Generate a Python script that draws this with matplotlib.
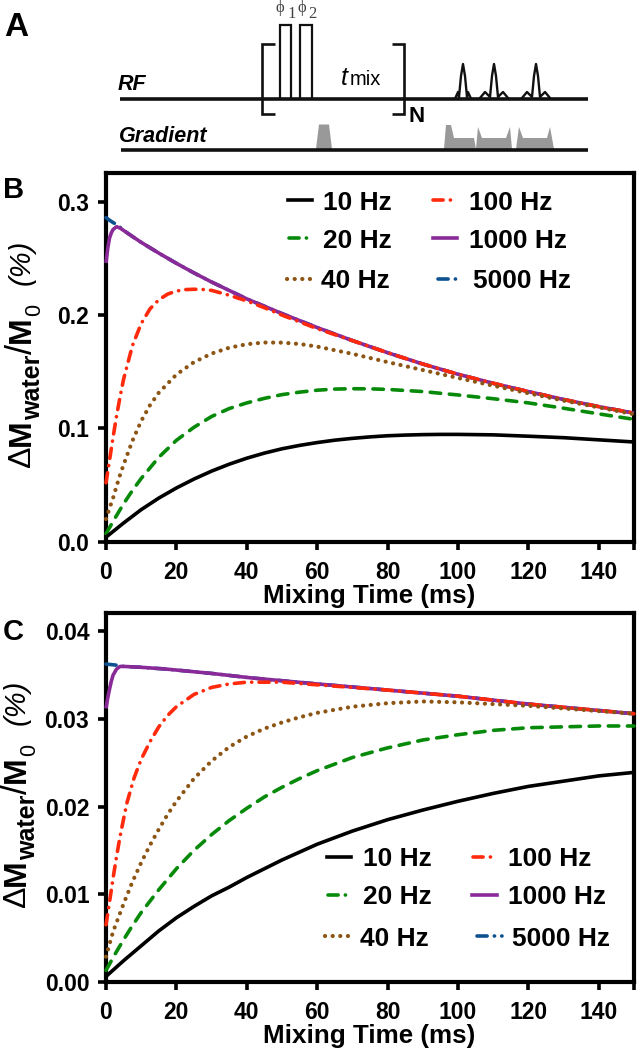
import matplotlib
matplotlib.use("Agg")
import matplotlib.pyplot as plt
from matplotlib.patches import Polygon

plt.rcParams['font.family'] = ['Liberation Sans', 'DejaVu Sans']
plt.rcParams['font.weight'] = 'bold'

W, H = 637, 1050

labels = ['10 Hz', '20 Hz', '40 Hz', '100 Hz', '1000 Hz', '5000 Hz']
colors = ['#000000', '#078a0a', '#8c5514', '#ff2a0c', '#8a2a98', '#0c5090']

# panel B
b_t_10 = [0, 5, 10, 15, 20, 25, 30, 35, 40, 45, 50, 55, 60, 65, 70, 75, 80, 85, 90, 95, 100, 110, 120, 130, 140, 150]
b_10 = [0.004, 0.0165, 0.0283, 0.0385, 0.0474, 0.0553, 0.0623, 0.0684, 0.0737, 0.0782, 0.082, 0.085, 0.0875, 0.0896, 0.0912, 0.0925, 0.0935, 0.0941, 0.0945, 0.0947, 0.0947, 0.0943, 0.0931, 0.0918, 0.0899, 0.088]
b_t_20 = [0, 2.5, 5, 7.5, 10, 15, 20, 25, 30, 35, 40, 45, 50, 55, 60, 65, 70, 75, 80, 90, 100, 110, 120, 130, 140, 150]
b_20 = [0.007, 0.0205, 0.0335, 0.0452, 0.0558, 0.0745, 0.0895, 0.101, 0.1105, 0.1175, 0.1225, 0.1265, 0.1298, 0.132, 0.1337, 0.1347, 0.135, 0.1349, 0.1344, 0.1325, 0.1295, 0.1262, 0.1225, 0.1178, 0.1128, 0.108]
b_t_40 = [0, 1, 2, 3, 4, 5, 7.5, 10, 12.5, 15, 20, 25, 30, 35, 40, 45, 50, 55, 60, 70, 80, 90, 100, 110, 120, 130, 140, 150]
b_40 = [0.02, 0.0295, 0.0385, 0.049, 0.059, 0.068, 0.089, 0.1065, 0.1205, 0.1315, 0.1475, 0.1585, 0.166, 0.1712, 0.1743, 0.1758, 0.1757, 0.1745, 0.1722, 0.1658, 0.1585, 0.1515, 0.1445, 0.1377, 0.131, 0.1245, 0.1185, 0.1125]
b_t_100 = [0, 1, 2, 3, 4, 5, 7.5, 10, 12.5, 15, 17.5, 20, 22.5, 25, 27.5, 30, 35, 40, 45, 50, 60, 70, 80, 90, 100, 110, 120, 130, 140, 150]
b_100 = [0.052, 0.072, 0.092, 0.111, 0.128, 0.1435, 0.173, 0.1925, 0.2055, 0.2135, 0.2185, 0.2212, 0.2225, 0.2228, 0.2226, 0.2218, 0.2175, 0.2125, 0.2065, 0.2, 0.188, 0.1775, 0.1668, 0.1568, 0.1478, 0.1398, 0.1325, 0.1255, 0.1192, 0.1135]
b_t_1000 = [0, 0.5, 1, 1.5, 2, 3, 4, 5, 7.5, 10, 15, 20, 25, 30, 40, 50, 60, 70, 80, 90, 100, 110, 120, 130, 140, 150]
b_1000 = [0.246, 0.259, 0.268, 0.2725, 0.2755, 0.278, 0.2768, 0.2747, 0.2694, 0.2642, 0.2547, 0.2457, 0.2372, 0.2292, 0.2143, 0.2013, 0.189, 0.1775, 0.1668, 0.1568, 0.1478, 0.1398, 0.1325, 0.1255, 0.1192, 0.1135]
b_t_5000 = [0, 1, 2, 3, 4, 5, 7.5, 10, 15, 20, 25, 30, 40, 50, 60, 70, 80, 90, 100, 110, 120, 130, 140, 150]
b_5000 = [0.286, 0.2837, 0.2817, 0.2798, 0.2775, 0.2747, 0.2694, 0.2642, 0.2547, 0.2457, 0.2372, 0.2292, 0.2143, 0.2013, 0.189, 0.1775, 0.1668, 0.1568, 0.1478, 0.1398, 0.1325, 0.1255, 0.1192, 0.1135]

# panel C
c_t_10 = [0, 5, 10, 15, 20, 25, 30, 35, 40, 45, 50, 55, 60, 70, 80, 90, 100, 110, 120, 130, 140, 150]
c_10 = [0.0006, 0.0024, 0.0041, 0.0058, 0.0073, 0.0086, 0.0098, 0.0108, 0.0119, 0.0129, 0.0139, 0.0148, 0.0157, 0.0172, 0.0185, 0.0196, 0.0206, 0.0215, 0.0223, 0.0229, 0.0235, 0.0239]
c_t_20 = [0, 2.5, 5, 7.5, 10, 12.5, 15, 20, 25, 30, 35, 40, 45, 50, 55, 60, 70, 80, 90, 100, 110, 120, 130, 140, 150]
c_20 = [0.0013, 0.0031, 0.0048, 0.0064, 0.0079, 0.0092, 0.0105, 0.0129, 0.015, 0.0168, 0.0184, 0.0198, 0.0211, 0.0222, 0.0232, 0.0241, 0.0256, 0.0267, 0.0276, 0.0282, 0.0287, 0.029, 0.0291, 0.0292, 0.0292]
c_t_40 = [0, 1, 2, 3.5, 5, 7.5, 10, 12.5, 15, 17.5, 20, 25, 30, 35, 40, 45, 50, 55, 60, 70, 80, 90, 100, 110, 120, 130, 140, 150]
c_40 = [0.00285, 0.0043, 0.0057, 0.0073, 0.0089, 0.0114, 0.0136, 0.0156, 0.0174, 0.0191, 0.0206, 0.0232, 0.0252, 0.0268, 0.028, 0.0289, 0.0296, 0.0302, 0.0307, 0.0314, 0.0318, 0.032, 0.0319, 0.0317, 0.0315, 0.0312, 0.0309, 0.0306]
c_t_100 = [0, 1, 2, 3, 4, 5, 6, 8, 10, 12.5, 15, 17.5, 20, 25, 30, 35, 40, 50, 60, 80, 100, 120, 150]
c_100 = [0.0065, 0.0091, 0.0118, 0.0143, 0.0166, 0.0186, 0.0205, 0.0233, 0.0254, 0.0274, 0.0291, 0.0304, 0.0314, 0.0328, 0.0336, 0.034, 0.0342, 0.0342, 0.0339, 0.0333, 0.0326, 0.0317, 0.0306]
c_t_1000 = [0, 0.5, 1, 1.5, 2, 3, 4, 5, 10, 17, 30, 41, 60, 80, 100, 120, 150]
c_1000 = [0.0312, 0.0324, 0.0334, 0.0343, 0.035, 0.0357, 0.036, 0.036, 0.0359, 0.0357, 0.0352, 0.0347, 0.034, 0.0333, 0.0326, 0.0317, 0.0306]
c_t_5000 = [0, 4, 5, 10, 17, 30, 41, 60, 80, 100, 120, 150]
c_5000 = [0.03627, 0.0361, 0.036, 0.0359, 0.0357, 0.0352, 0.0347, 0.034, 0.0333, 0.0326, 0.0317, 0.0306]

x_ticks = [0, 20, 40, 60, 80, 100, 120, 140, 150]
x_tick_labels = ['0', '20', '40', '60', '80', '100', '120', '140', '']
b_ticks = [0.0, 0.1, 0.2, 0.3]
c_ticks = [0.00, 0.01, 0.02, 0.03, 0.04]

LW = 2.6
styles = {
    '10 Hz': '-',
    '20 Hz': (0, (2.9, 2.4)),
    '40 Hz': (0, (0.03, 1.8)),
    '100 Hz': (0, (2.8, 2.0, 0.05, 2.0)),
    '1000 Hz': '-',
    '5000 Hz': (0, (2.8, 2.0, 0.05, 2.0)),
}
handle_styles = dict(styles)
handle_styles['20 Hz'] = (0, (2.8, 2.0, 0.05, 2.0))
widths = {'40 Hz': 3.0}


def box(left, right, top, bottom):
    return [left / W, 1 - bottom / H, (right - left) / W, (bottom - top) / H]


def draw_panel(ax, series, ymax, ticks, fmt):
    # same stacking as the original: blue under purple under red
    for i in [5, 4, 3, 1, 2, 0]:
        t, vals = series[i]
        ax.plot(t, vals, color=colors[i], lw=widths.get(labels[i], LW), ls=styles[labels[i]],
                zorder=3, clip_on=False, dash_capstyle='round', solid_capstyle='butt')
    ax.set_xlim(0, 150)
    ax.set_ylim(0, ymax)
    ax.set_xticks(x_ticks)
    ax.set_xticklabels(x_tick_labels)
    ax.set_yticks(ticks)
    ax.set_yticklabels([fmt.format(v) for v in ticks])
    ax.tick_params(length=6, width=2.6, labelsize=16.5)
    ax.tick_params(axis='x', pad=8)
    ax.tick_params(axis='y', pad=6)
    for s in ax.spines.values():
        s.set_linewidth(3)


ax_b = plt.figure(figsize=(W / 100, H / 100), dpi=100).add_axes(box(106, 634, 173, 541.7))
fig = ax_b.figure
draw_panel(ax_b, [(b_t_10, b_10), (b_t_20, b_20), (b_t_40, b_40), (b_t_100, b_100), (b_t_1000, b_1000), (b_t_5000, b_5000)],
           0.3254, b_ticks, '{:.1f}')
ax_c = fig.add_axes(box(106, 634, 613, 981.7))
draw_panel(ax_c, [(c_t_10, c_10), (c_t_20, c_20), (c_t_40, c_40), (c_t_100, c_100), (c_t_1000, c_1000), (c_t_5000, c_5000)],
           0.0421, c_ticks, '{:.2f}')

# overlay in pixels for schematic, labels and the hand placed legends
pix = fig.add_axes([0, 0, 1, 1], facecolor='none', zorder=10)
pix.set_xlim(0, W)
pix.set_ylim(H, 0)
pix.axis('off')


def ylabel_parts(x, y):
    # label built from pieces, mathtext subscripts come out too small
    r = dict(rotation=90, rotation_mode='anchor', ha='left', va='baseline')
    pix.text(x, y, '\u0394', fontsize=23, weight='normal', **r)
    pix.text(x, y - 21, 'M', fontsize=23, **r)
    pix.text(x + 10, y - 47, 'water', fontsize=18, **r)
    pix.text(x + 2, y - 113, '/', fontsize=26, weight='normal', **r)
    pix.text(x, y - 124, 'M', fontsize=23, **r)
    pix.text(x + 10, y - 151, '0', fontsize=15.5, weight='normal', **r)
    pix.text(x, y - 182, '(%)', fontsize=21, weight='normal', style='italic', **r)


ylabel_parts(30, 467)
ylabel_parts(25, 907)
pix.text(369, 603, 'Mixing Time (ms)', ha='center', va='baseline', fontsize=18.7)
pix.text(369, 1043, 'Mixing Time (ms)', ha='center', va='baseline', fontsize=18.7)

pix.text(4, 36, 'A', fontsize=24, va='baseline')
pix.text(3, 198, 'B', fontsize=21, va='baseline')
pix.text(3, 640, 'C', fontsize=21, va='baseline')

# legends: handle start, handle end, row y, text start
leg_b = [(288, 312, 200, 323), (289, 313, 238, 323), (287, 310, 279, 321),
         (433, 457, 200, 469), (433, 457, 238, 469), (438, 462, 279, 473)]
leg_c = [(327, 351, 857, 363), (328, 352, 895, 363), (325, 349, 936, 360),
         (473, 497, 857, 508), (472, 497, 895, 508), (477, 502, 936, 512)]
for rows in (leg_b, leg_c):
    for i, (x0, x1, y, xt) in enumerate(rows):
        pix.plot([x0, x1], [y, y], color=colors[i], lw=widths.get(labels[i], LW), ls=handle_styles[labels[i]],
                 dash_capstyle='round')
        pix.text(xt, y, labels[i], fontsize=19, va='center_baseline')

# panel A, pulse sequence
k = dict(color='#111111', solid_capstyle='butt', solid_joinstyle='miter')
pix.plot([120, 588], [99, 99], lw=2.6, **k)
pix.plot([121, 588], [150, 150], lw=2.6, **k)
pix.plot([275, 262, 262, 275], [44, 44, 114, 114], lw=1.9, **k)
pix.plot([392, 404, 404, 392], [44, 44, 114, 114], lw=1.9, **k)
pix.plot([280, 280, 291, 291], [99, 24.5, 24.5, 99], lw=1.6, **k)
pix.plot([300, 300, 311.5, 311.5], [99, 24.5, 24.5, 99], lw=1.6, **k)

for xc, side in [(463, 0.55), (494, 1.0), (536, 1.0)]:
    dx = [-14 * side, -9 * side, -4, -2, 0, 2, 4, 9 * side, 14 * side]
    dy = [98, 92, 97, 76, 64, 76, 97, 92, 98]
    pix.plot([xc + d for d in dx], dy, color='#111111', lw=1.7)

gray = '#999999'
pix.add_patch(Polygon([(316, 149), (319, 124.5), (329, 124.5), (332, 149)], color=gray, lw=0))
pix.add_patch(Polygon([(444, 149), (446, 125), (451, 125), (454, 138), (474, 138), (476, 149)], color=gray, lw=0))
pix.add_patch(Polygon([(476, 149), (478, 127), (482, 138), (506, 138), (510, 127), (512, 149)], color=gray, lw=0))
pix.add_patch(Polygon([(516, 149), (519, 127), (523, 138), (547, 138), (550, 127), (554, 149)], color=gray, lw=0))

serif = ['Liberation Serif', 'DejaVu Serif']
pix.text(276, 12, '\u03d5', family=serif, fontsize=12, color='#444444', weight='normal', va='baseline')
pix.text(287.5, 18, '1', family=serif, fontsize=12, color='#444444', weight='normal', va='baseline')
pix.text(297, 12, '\u03d5', family=serif, fontsize=12, color='#444444', weight='normal', va='baseline')
pix.text(308.5, 18, '2', family=serif, fontsize=12, color='#444444', weight='normal', va='baseline')
pix.text(341, 85, 't', fontsize=18, style='italic', weight='normal', va='baseline')
pix.text(350, 85, 'mix', fontsize=14.5, weight='normal', va='baseline')
pix.text(118, 90, 'RF', fontsize=15.5, style='italic', va='baseline')
pix.text(119, 142, 'Gradient', fontsize=15.5, style='italic', va='baseline')
pix.text(409, 122, 'N', fontsize=16, va='baseline')

fig.savefig('out.png', dpi=100)
